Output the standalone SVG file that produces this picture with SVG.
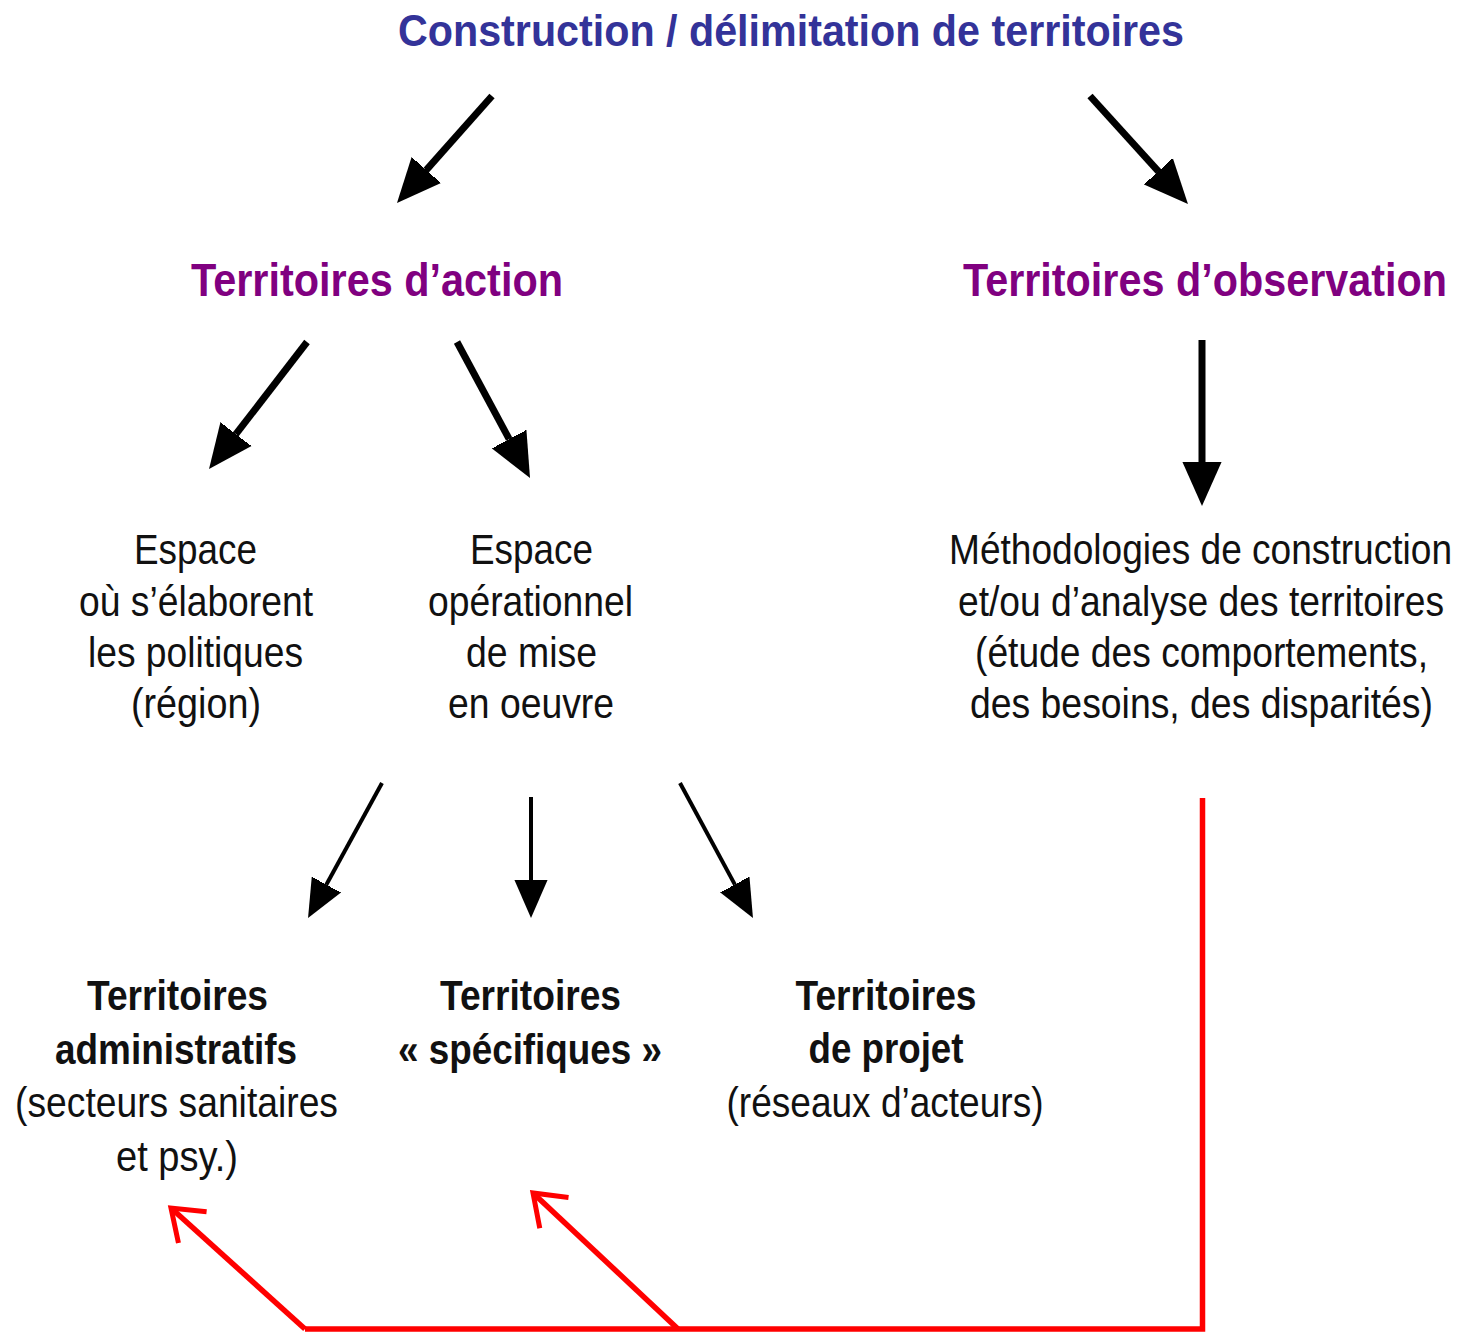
<svg xmlns="http://www.w3.org/2000/svg" width="1470" height="1333" viewBox="0 0 1470 1333">
<style>
text { font-family: "Liberation Sans Narrow", "Liberation Sans", Arial, sans-serif; text-anchor: middle; }
.end { text-anchor: end; }
.title { font-size: 45px; font-weight: bold; fill: #333399; }
.head { font-size: 46px; font-weight: bold; fill: #800080; }
.reg { font-size: 42px; fill: #111111; }
.bold { font-size: 42px; font-weight: bold; fill: #111111; }
.big { stroke: #000; stroke-width: 7; fill: none; }
.small { stroke: #000; stroke-width: 4; fill: none; }
.red { stroke: #ff0000; stroke-width: 5.5; fill: none; stroke-linejoin: miter; }
</style>
<defs>
<marker id="bigHead" viewBox="0 -20 44 40" refX="0" refY="0" markerWidth="44" markerHeight="40" markerUnits="userSpaceOnUse" orient="auto">
<path d="M-1,-20 L44,0 L-1,20 z" fill="#000"/>
</marker>
<marker id="smallHead" viewBox="0 -17 38 34" refX="0" refY="0" markerWidth="38" markerHeight="34" markerUnits="userSpaceOnUse" orient="auto">
<path d="M-1,-17 L38,0 L-1,17 z" fill="#000"/>
</marker>
<marker id="openHead" viewBox="-34 -26 40 52" refX="0" refY="0" markerWidth="40" markerHeight="52" markerUnits="userSpaceOnUse" orient="auto" overflow="visible">
<path d="M-29,-21 L0,0 L-29,21" fill="none" stroke="#ff0000" stroke-width="5"/>
</marker>
</defs>

<g id="title">
<text class="title" x="791" y="46" textLength="786" lengthAdjust="spacingAndGlyphs">Construction / délimitation de territoires</text>
</g>

<g id="territoires-action">
<text class="head" x="377" y="296" textLength="372" lengthAdjust="spacingAndGlyphs">Territoires d’action</text>
</g>

<g id="territoires-observation">
<text class="head end" x="1447" y="296" textLength="484" lengthAdjust="spacingAndGlyphs">Territoires d’observation</text>
</g>

<g id="espace-politiques">
<text class="reg" x="195.5" y="564" textLength="123" lengthAdjust="spacingAndGlyphs">Espace</text>
<text class="reg" x="196" y="615.5" textLength="234" lengthAdjust="spacingAndGlyphs">où s’élaborent</text>
<text class="reg" x="195.5" y="667" textLength="215" lengthAdjust="spacingAndGlyphs">les politiques</text>
<text class="reg" x="196" y="718" textLength="130" lengthAdjust="spacingAndGlyphs">(région)</text>
</g>

<g id="espace-operationnel">
<text class="reg" x="531.5" y="564" textLength="123" lengthAdjust="spacingAndGlyphs">Espace</text>
<text class="reg" x="530.5" y="615.5" textLength="205" lengthAdjust="spacingAndGlyphs">opérationnel</text>
<text class="reg" x="531.5" y="667" textLength="131" lengthAdjust="spacingAndGlyphs">de mise</text>
<text class="reg" x="531" y="718" textLength="166" lengthAdjust="spacingAndGlyphs">en oeuvre</text>
</g>

<g id="methodologies">
<text class="reg end" x="1452" y="564" textLength="503" lengthAdjust="spacingAndGlyphs">Méthodologies de construction</text>
<text class="reg end" x="1444" y="615.5" textLength="486" lengthAdjust="spacingAndGlyphs">et/ou d’analyse des territoires</text>
<text class="reg end" x="1428" y="667" textLength="453" lengthAdjust="spacingAndGlyphs">(étude des comportements,</text>
<text class="reg end" x="1433" y="718" textLength="463" lengthAdjust="spacingAndGlyphs">des besoins, des disparités)</text>
</g>

<g id="territoires-administratifs">
<text class="bold" x="177.5" y="1010" textLength="181" lengthAdjust="spacingAndGlyphs">Territoires</text>
<text class="bold" x="176" y="1064" textLength="242" lengthAdjust="spacingAndGlyphs">administratifs</text>
<text class="reg" x="176.5" y="1117" textLength="323" lengthAdjust="spacingAndGlyphs">(secteurs sanitaires</text>
<text class="reg" x="177" y="1171" textLength="122" lengthAdjust="spacingAndGlyphs">et psy.)</text>
</g>

<g id="territoires-specifiques">
<text class="bold" x="530.5" y="1010" textLength="181" lengthAdjust="spacingAndGlyphs">Territoires</text>
<text class="bold" x="530" y="1064" textLength="264" lengthAdjust="spacingAndGlyphs">« spécifiques »</text>
</g>

<g id="territoires-projet">
<text class="bold" x="886" y="1010" textLength="181" lengthAdjust="spacingAndGlyphs">Territoires</text>
<text class="bold" x="886" y="1063" textLength="155" lengthAdjust="spacingAndGlyphs">de projet</text>
<text class="reg" x="885" y="1117" textLength="317" lengthAdjust="spacingAndGlyphs">(réseaux d’acteurs)</text>
</g>

<g id="connectors">
<path class="big" d="M492,96 L426.2,170.1" marker-end="url(#bigHead)"/>
<path class="big" d="M1090,96 L1158.4,171.4" marker-end="url(#bigHead)"/>
<path class="big" d="M307,342 L235.9,434.2" marker-end="url(#bigHead)"/>
<path class="big" d="M457,342 L509.2,439.2" marker-end="url(#bigHead)"/>
<path class="big" d="M1202,340 L1202,462" marker-end="url(#bigHead)"/>
<path class="small" d="M382,783 L326.3,884.7" marker-end="url(#smallHead)"/>
<path class="small" d="M531,797 L531,880" marker-end="url(#smallHead)"/>
<path class="small" d="M680,783 L734.9,884.6" marker-end="url(#smallHead)"/>
<path class="red" d="M1202.5,798 V1329 H305"/>
<path class="red" d="M305,1329 L171,1208" marker-end="url(#openHead)"/>
<path class="red" d="M678,1329 L533,1193" marker-end="url(#openHead)"/>
</g>
</svg>
